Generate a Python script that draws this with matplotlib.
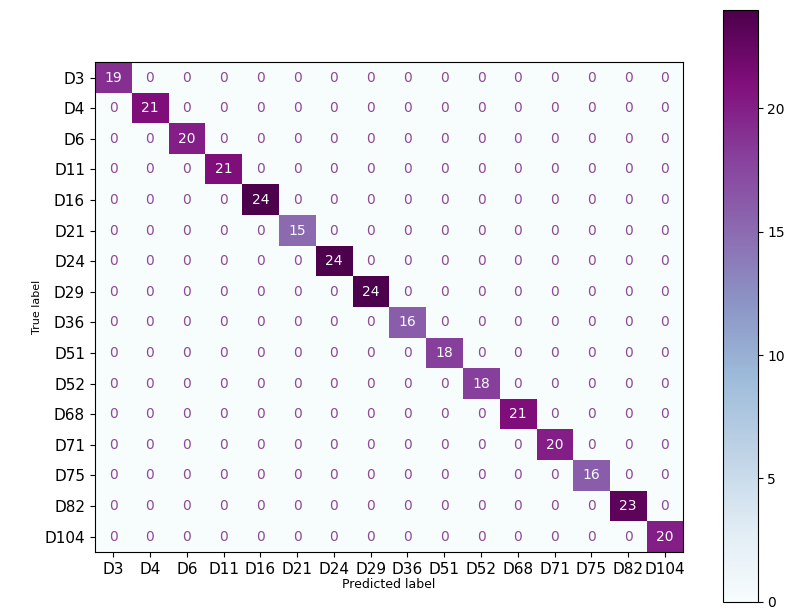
import numpy as np
import matplotlib
matplotlib.use("Agg")
from matplotlib import pyplot as plt

labels = ["D3", "D4", "D6", "D11", "D16", "D21", "D24", "D29",
          "D36", "D51", "D52", "D68", "D71", "D75", "D82", "D104"]
diag_counts = [19, 21, 20, 21, 24, 15, 24, 24, 16, 18, 18, 21, 20, 16, 23, 20]

cm = np.diag(diag_counts)
n = len(labels)

fig = plt.figure(figsize=(7.9, 6.09), dpi=100)
ax = fig.add_axes([0.120, 0.0936, 0.745, 0.804])
cax = fig.add_axes([0.915, 0.012, 0.044, 0.972])

im = ax.imshow(cm, cmap="BuPu", vmin=0, vmax=max(diag_counts),
               interpolation="nearest", aspect="auto")
cb = fig.colorbar(im, cax=cax)
cb.ax.tick_params(labelsize=10)

thresh = max(diag_counts) / 2.0
for i in range(n):
    for j in range(n):
        v = cm[i, j]
        color = "#f7fcfd" if v > thresh else "#8e4a96"
        ax.text(j, i, str(v), ha="center", va="center", color=color, fontsize=10)

ax.set_xticks(range(n))
ax.set_yticks(range(n))
ax.set_xticklabels(labels, fontsize=11)
ax.set_yticklabels(labels, fontsize=11)
ax.set_xlabel("Predicted label", fontsize=9, labelpad=1)
ax.set_ylabel("True label", fontsize=8, labelpad=2)

fig.savefig("out.png", dpi=100)
